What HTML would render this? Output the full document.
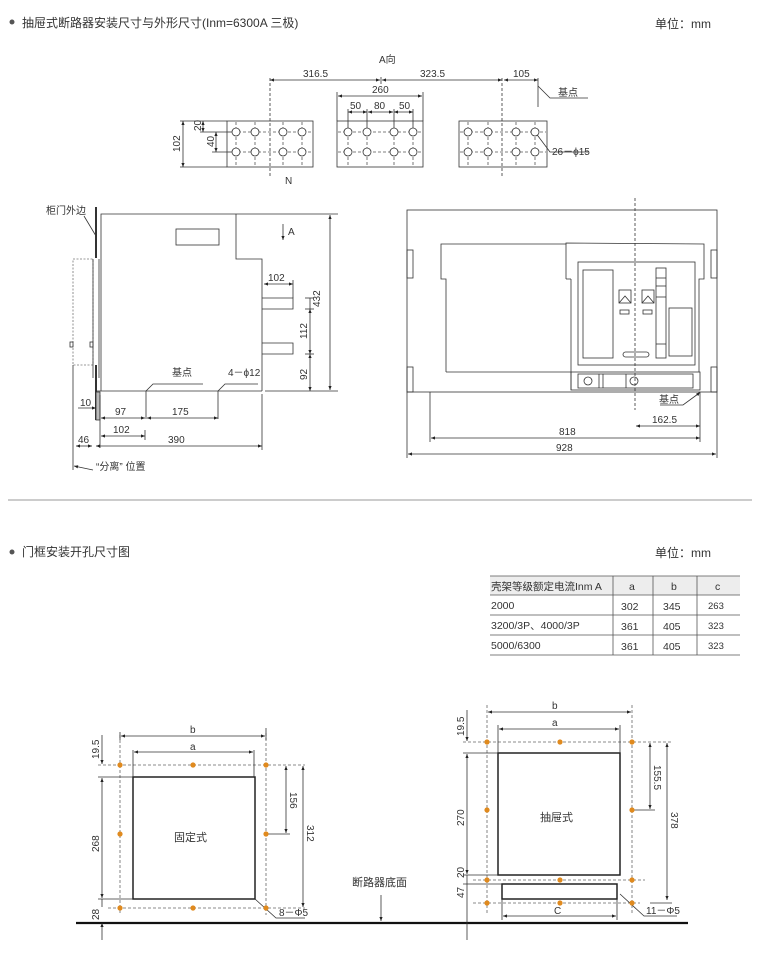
<!DOCTYPE html>
<html><head><meta charset="utf-8"><style>
html,body{margin:0;padding:0;background:#fff}
svg{display:block;font-family:"Liberation Sans","Noto Sans CJK SC",sans-serif}
text{fill:#333}
</style></head><body>
<svg width="760" height="958" viewBox="0 0 760 958" xmlns="http://www.w3.org/2000/svg">
<defs>
<marker id="a" viewBox="0 0 10 10" refX="10" refY="5" markerWidth="6" markerHeight="5" orient="auto-start-reverse"><path d="M0,1 L10,5 L0,9z" fill="#222"/></marker>
</defs>
<g font-size="11">
<circle cx="12" cy="22" r="2.5" fill="#555"/>
<text x="22" y="27" font-size="12">抽屉式断路器安装尺寸与外形尺寸(Inm=6300A 三极)</text>
<text x="655" y="28" font-size="12">单位：mm</text>
</g>

<g stroke="#333" stroke-width="0.8" fill="none">
<line x1="270" y1="80" x2="380" y2="80" marker-start="url(#a)" marker-end="url(#a)"/>
<line x1="382" y1="80" x2="502" y2="80" marker-start="url(#a)" marker-end="url(#a)"/>
<line x1="504" y1="80" x2="538" y2="80" marker-start="url(#a)" marker-end="url(#a)"/>
<line x1="381" y1="77" x2="381" y2="84"/>
<line x1="270" y1="78" x2="270" y2="178" stroke-dasharray="3,2"/>
<line x1="502" y1="78" x2="502" y2="178" stroke-dasharray="3,2"/>
<polyline points="538,78 538,107"/>
<polyline points="538,86 550,98 588,98"/>
<rect x="227" y="121" width="86" height="46"/>
<line x1="180" y1="121" x2="227" y2="121"/><line x1="180" y1="167" x2="227" y2="167"/>
<line x1="183" y1="121" x2="183" y2="167" marker-start="url(#a)" marker-end="url(#a)"/>
<line x1="200" y1="132" x2="236" y2="132"/><line x1="212" y1="152" x2="236" y2="152"/>
<line x1="203" y1="121" x2="203" y2="132" marker-start="url(#a)" marker-end="url(#a)"/>
<line x1="216" y1="132" x2="216" y2="152" marker-start="url(#a)" marker-end="url(#a)"/>
<rect x="337" y="121" width="86" height="46"/>
<line x1="337" y1="92" x2="337" y2="121"/><line x1="423" y1="92" x2="423" y2="121"/>
<line x1="338" y1="96" x2="422" y2="96" marker-start="url(#a)" marker-end="url(#a)"/>
<line x1="348" y1="109" x2="348" y2="132"/><line x1="367" y1="109" x2="367" y2="132"/>
<line x1="394" y1="109" x2="394" y2="132"/><line x1="413" y1="109" x2="413" y2="132"/>
<line x1="348" y1="112" x2="367" y2="112" marker-start="url(#a)" marker-end="url(#a)"/>
<line x1="368" y1="112" x2="393" y2="112" marker-start="url(#a)" marker-end="url(#a)"/>
<line x1="394" y1="112" x2="413" y2="112" marker-start="url(#a)" marker-end="url(#a)"/>
<rect x="459" y="121" width="88" height="46"/>
<polyline points="535,132 550,152 588,152"/>
<g stroke-dasharray="3,2" stroke="#555">
<line x1="228" y1="132" x2="312" y2="132"/><line x1="228" y1="152" x2="312" y2="152"/>
<line x1="338" y1="132" x2="422" y2="132"/><line x1="338" y1="152" x2="422" y2="152"/>
<line x1="460" y1="132" x2="546" y2="132"/><line x1="460" y1="152" x2="546" y2="152"/>
<path d="M236 122V166M255 122V166M283 122V166M302 122V166M348 122V166M367 122V166M394 122V166M413 122V166M468 122V166M488 122V166M516 122V166M535 122V166"/>
</g>
<g fill="#fff">
<circle cx="236" cy="132" r="4"/><circle cx="255" cy="132" r="4"/><circle cx="283" cy="132" r="4"/><circle cx="302" cy="132" r="4"/>
<circle cx="236" cy="152" r="4"/><circle cx="255" cy="152" r="4"/><circle cx="283" cy="152" r="4"/><circle cx="302" cy="152" r="4"/>
<circle cx="348" cy="132" r="4"/><circle cx="367" cy="132" r="4"/><circle cx="394" cy="132" r="4"/><circle cx="413" cy="132" r="4"/>
<circle cx="348" cy="152" r="4"/><circle cx="367" cy="152" r="4"/><circle cx="394" cy="152" r="4"/><circle cx="413" cy="152" r="4"/>
<circle cx="468" cy="132" r="4"/><circle cx="488" cy="132" r="4"/><circle cx="516" cy="132" r="4"/><circle cx="535" cy="132" r="4"/>
<circle cx="468" cy="152" r="4"/><circle cx="488" cy="152" r="4"/><circle cx="516" cy="152" r="4"/><circle cx="535" cy="152" r="4"/>
</g>

<line x1="96" y1="207" x2="96" y2="258" stroke-width="2"/>
<line x1="84" y1="216" x2="96" y2="236"/>
<line x1="96" y1="365" x2="96" y2="420" stroke-width="2"/>
<polyline points="101,391 101,214 338,214"/>
<polyline points="236,214 236,259 262,259 262,391"/>
<line x1="97" y1="391" x2="262" y2="391"/><line x1="265" y1="391" x2="338" y2="391"/>
<rect x="176" y="229" width="43" height="16"/>
<line x1="283" y1="224" x2="283" y2="240" marker-end="url(#a)"/>
<rect x="73" y="259" width="20" height="106" stroke-dasharray="2,1.5" stroke="#777"/>
<line x1="93" y1="259" x2="93" y2="378"/><line x1="99" y1="259" x2="99" y2="378"/>
<rect x="70" y="342" width="3" height="5"/><rect x="90" y="342" width="3" height="5"/>
<line x1="73" y1="365" x2="73" y2="470"/>
<rect x="96" y="392" width="4" height="28" fill="#bbb"/>
<polyline points="262,298 293,298 293,309 262,309"/>
<polyline points="262,343 293,343 293,354 262,354"/>
<line x1="264" y1="284" x2="293" y2="284" marker-start="url(#a)" marker-end="url(#a)"/>
<line x1="293" y1="280" x2="293" y2="298"/>
<line x1="305" y1="298" x2="314" y2="298"/><line x1="305" y1="309" x2="314" y2="309"/><line x1="305" y1="354" x2="314" y2="354"/>
<line x1="310" y1="298" x2="310" y2="309"/>
<line x1="310" y1="309" x2="310" y2="354" marker-start="url(#a)" marker-end="url(#a)"/>
<line x1="310" y1="354" x2="310" y2="391" marker-start="url(#a)" marker-end="url(#a)"/>
<line x1="330" y1="215" x2="330" y2="390" marker-start="url(#a)" marker-end="url(#a)"/>
<polyline points="146,419 146,391 153,384 203,384"/>
<polyline points="218,419 218,391 225,384 258,384"/>
<line x1="100" y1="395" x2="100" y2="448"/>
<line x1="78" y1="408" x2="96" y2="408" marker-end="url(#a)"/>
<line x1="101" y1="418" x2="145" y2="418" marker-start="url(#a)" marker-end="url(#a)"/>
<line x1="147" y1="418" x2="218" y2="418" marker-start="url(#a)" marker-end="url(#a)"/>
<line x1="101" y1="436" x2="145" y2="436" marker-start="url(#a)" marker-end="url(#a)"/>
<line x1="145" y1="430" x2="145" y2="440"/>
<line x1="262" y1="394" x2="262" y2="450"/>
<line x1="96" y1="446" x2="262" y2="446" marker-start="url(#a)" marker-end="url(#a)"/>
<line x1="76" y1="446" x2="92" y2="446" marker-start="url(#a)" marker-end="url(#a)"/>
<line x1="93" y1="470" x2="74" y2="466" marker-end="url(#a)"/>

<rect x="407" y="210" width="310" height="182"/>
<rect x="407" y="250" width="6" height="28"/><rect x="407" y="367" width="6" height="25"/>
<rect x="711" y="250" width="6" height="28"/><rect x="711" y="367" width="6" height="25"/>
<polyline points="446,372 446,279 441,279 441,244 566,244 566,243 704,244 704,279 699,279 699,372"/>
<line x1="566" y1="244" x2="566" y2="279"/><line x1="566" y1="279" x2="571" y2="279"/><line x1="571" y1="279" x2="571" y2="390"/>
<line x1="446" y1="372" x2="571" y2="372"/>
<rect x="578" y="262" width="117" height="103"/>
<rect x="583" y="270" width="30" height="88"/>
<rect x="656" y="268" width="10" height="90"/>
<line x1="656" y1="278" x2="666" y2="278"/><line x1="656" y1="286" x2="666" y2="286"/><line x1="656" y1="297" x2="666" y2="297"/><line x1="656" y1="344" x2="666" y2="344"/>
<rect x="669" y="308" width="23" height="48"/>
<rect x="623" y="352" width="26" height="5" rx="2.5"/>
<rect x="619" y="290" width="12" height="13"/><rect x="642" y="290" width="12" height="13"/>
<path d="M619 303L625 296L631 303M642 303L648 296L654 303"/>
<rect x="620" y="310" width="9" height="4"/><rect x="643" y="310" width="9" height="4"/>
<rect x="571" y="372" width="129" height="18"/>
<rect x="578" y="374" width="115" height="14"/>
<line x1="599" y1="374" x2="599" y2="388"/><line x1="603" y1="374" x2="603" y2="388"/><line x1="626" y1="374" x2="626" y2="388"/>
<circle cx="588" cy="381" r="4"/><circle cx="634" cy="381" r="4"/>
<line x1="635" y1="198" x2="635" y2="410" stroke-dasharray="3,2"/>
<polyline points="660,405 683,405 698,394" />
<line x1="698" y1="394" x2="700" y2="392" marker-end="url(#a)"/>
<line x1="430" y1="392" x2="430" y2="442"/><line x1="700" y1="392" x2="700" y2="442"/>
<line x1="636" y1="426" x2="700" y2="426" marker-start="url(#a)" marker-end="url(#a)"/>
<line x1="431" y1="438" x2="700" y2="438" marker-start="url(#a)" marker-end="url(#a)"/>
<line x1="407" y1="392" x2="407" y2="458"/><line x1="717" y1="392" x2="717" y2="458"/>
<line x1="408" y1="454" x2="716" y2="454" marker-start="url(#a)" marker-end="url(#a)"/>
</g>

<g font-size="10">
<text x="379" y="63">A向</text>
<text x="303" y="77">316.5</text><text x="420" y="77">323.5</text><text x="513" y="77">105</text>
<text x="558" y="96">基点</text>
<text x="372" y="93">260</text>
<text x="350" y="109">50</text><text x="374" y="109">80</text><text x="399" y="109">50</text>
<text x="285" y="184">N</text>
<text x="552" y="155">26－ϕ15</text>
<text transform="translate(180,152) rotate(-90)">102</text>
<text transform="translate(201,131) rotate(-90)">20</text>
<text transform="translate(214,147) rotate(-90)">40</text>
<text x="46" y="214">柜门外边</text>
<text x="288" y="235">A</text>
<text x="268" y="281">102</text>
<text transform="translate(320,307) rotate(-90)">432</text>
<text transform="translate(307,339) rotate(-90)">112</text>
<text transform="translate(307,380) rotate(-90)">92</text>
<text x="172" y="376">基点</text><text x="228" y="376">4－ϕ12</text>
<text x="80" y="406">10</text>
<text x="115" y="415">97</text><text x="172" y="415">175</text>
<text x="113" y="433">102</text><text x="168" y="443">390</text>
<text x="78" y="443">46</text>
<text x="96" y="470">“分离” 位置</text>
<text x="659" y="403">基点</text>
<text x="652" y="423">162.5</text><text x="559" y="435">818</text><text x="556" y="451">928</text>
</g>

<line x1="8" y1="500" x2="752" y2="500" stroke="#999" stroke-width="1"/>
<circle cx="12" cy="552" r="2.5" fill="#555"/>
<text x="22" y="556" font-size="12">门框安装开孔尺寸图</text>
<text x="655" y="557" font-size="12">单位：mm</text>

<g font-size="10.5">
<rect x="490" y="576" width="250" height="19" fill="#ededed"/>
<g stroke="#555" stroke-width="0.8" fill="none">
<line x1="490" y1="576" x2="740" y2="576"/><line x1="490" y1="595" x2="740" y2="595"/>
<line x1="490" y1="615" x2="740" y2="615"/><line x1="490" y1="635" x2="740" y2="635"/>
<line x1="490" y1="655" x2="740" y2="655"/>
<line x1="613" y1="576" x2="613" y2="655"/><line x1="653" y1="576" x2="653" y2="655"/><line x1="697" y1="576" x2="697" y2="655"/>
</g>
<text x="491" y="590">壳架等级额定电流Inm A</text>
<text x="629" y="590">a</text><text x="671" y="590">b</text><text x="715" y="590">c</text>
<text x="491" y="609">2000</text><text x="621" y="610">302</text><text x="663" y="610">345</text><text x="708" y="609" font-size="9.5">263</text>
<text x="491" y="629">3200/3P、4000/3P</text><text x="621" y="630">361</text><text x="663" y="630">405</text><text x="708" y="629" font-size="9.5">323</text>
<text x="491" y="649">5000/6300</text><text x="621" y="650">361</text><text x="663" y="650">405</text><text x="708" y="649" font-size="9.5">323</text>
</g>

<g stroke="#333" stroke-width="0.8" fill="none">
<line x1="76" y1="923" x2="688" y2="923" stroke-width="2.2" stroke="#111"/>
<g stroke-dasharray="3,2" stroke="#666">
<line x1="120" y1="735" x2="120" y2="915"/><line x1="266" y1="733" x2="266" y2="915"/>
<line x1="98" y1="765" x2="305" y2="765"/><line x1="108" y1="908" x2="305" y2="908"/>
<line x1="487" y1="705" x2="487" y2="915"/><line x1="632" y1="705" x2="632" y2="915"/>
<line x1="463" y1="742" x2="672" y2="742"/><line x1="473" y1="880" x2="645" y2="880"/><line x1="473" y1="903" x2="640" y2="903"/>
</g>
<rect x="133" y="777" width="122" height="122" stroke-width="1.5" stroke="#222"/>
<line x1="120" y1="732" x2="120" y2="740"/><line x1="133" y1="750" x2="133" y2="777"/><line x1="254" y1="750" x2="254" y2="777"/><line x1="266" y1="728" x2="266" y2="740"/>
<line x1="121" y1="736" x2="265" y2="736" marker-start="url(#a)" marker-end="url(#a)"/>
<line x1="134" y1="752" x2="253" y2="752" marker-start="url(#a)" marker-end="url(#a)"/>
<line x1="98" y1="777" x2="133" y2="777"/><line x1="98" y1="899" x2="133" y2="899"/>
<line x1="102" y1="735" x2="102" y2="764" marker-end="url(#a)"/>
<line x1="102" y1="778" x2="102" y2="898" marker-start="url(#a)" marker-end="url(#a)"/>
<line x1="102" y1="923" x2="102" y2="940" marker-start="url(#a)"/>
<line x1="102" y1="899" x2="102" y2="907"/>
<line x1="266" y1="834" x2="290" y2="834"/>
<line x1="286" y1="766" x2="286" y2="833" marker-start="url(#a)" marker-end="url(#a)"/>
<line x1="303" y1="766" x2="303" y2="907" marker-start="url(#a)" marker-end="url(#a)"/>
<polyline points="255,899 276,918 305,918"/>
<line x1="381" y1="895" x2="381" y2="921" marker-end="url(#a)"/>

<rect x="498" y="753" width="122" height="122" stroke-width="1.5" stroke="#222"/>
<rect x="502" y="884" width="115" height="15" stroke-width="1.5" stroke="#222"/>
<line x1="498" y1="725" x2="498" y2="753"/><line x1="620" y1="725" x2="620" y2="753"/>
<line x1="488" y1="712" x2="631" y2="712" marker-start="url(#a)" marker-end="url(#a)"/>
<line x1="499" y1="729" x2="619" y2="729" marker-start="url(#a)" marker-end="url(#a)"/>
<line x1="463" y1="753" x2="498" y2="753"/><line x1="463" y1="875" x2="498" y2="875"/><line x1="463" y1="884" x2="502" y2="884"/>
<line x1="467" y1="710" x2="467" y2="741" marker-end="url(#a)"/>
<line x1="467" y1="754" x2="467" y2="874" marker-start="url(#a)" marker-end="url(#a)"/>
<line x1="467" y1="875" x2="467" y2="940"/>
<line x1="632" y1="810" x2="655" y2="810"/>
<line x1="650" y1="743" x2="650" y2="809" marker-start="url(#a)" marker-end="url(#a)"/>
<line x1="667" y1="743" x2="667" y2="900" marker-start="url(#a)" marker-end="url(#a)"/>
<line x1="650" y1="903" x2="672" y2="903"/>
<line x1="502" y1="899" x2="502" y2="920"/><line x1="617" y1="899" x2="617" y2="920"/>
<line x1="503" y1="916" x2="616" y2="916" marker-start="url(#a)" marker-end="url(#a)"/>
<polyline points="620,894 644,916 677,916"/>
</g>
<g fill="#e08a1e">
<circle cx="120" cy="765" r="2.6"/><circle cx="193" cy="765" r="2.6"/><circle cx="266" cy="765" r="2.6"/>
<circle cx="120" cy="834" r="2.6"/><circle cx="266" cy="834" r="2.6"/>
<circle cx="120" cy="908" r="2.6"/><circle cx="193" cy="908" r="2.6"/><circle cx="266" cy="908" r="2.6"/>
<circle cx="487" cy="742" r="2.6"/><circle cx="560" cy="742" r="2.6"/><circle cx="632" cy="742" r="2.6"/>
<circle cx="487" cy="810" r="2.6"/><circle cx="632" cy="810" r="2.6"/>
<circle cx="487" cy="880" r="2.6"/><circle cx="560" cy="880" r="2.6"/><circle cx="632" cy="880" r="2.6"/>
<circle cx="487" cy="903" r="2.6"/><circle cx="560" cy="903" r="2.6"/><circle cx="632" cy="903" r="2.6"/>
</g>
<g font-size="10">
<text x="190" y="733">b</text><text x="190" y="750">a</text>
<text x="174" y="841" font-size="11">固定式</text>
<text transform="translate(99,759) rotate(-90)">19.5</text>
<text transform="translate(99,852) rotate(-90)">268</text>
<text transform="translate(99,920) rotate(-90)">28</text>
<text transform="translate(290,792) rotate(90)">156</text>
<text transform="translate(307,825) rotate(90)">312</text>
<text x="279" y="916">8－Φ5</text>
<text x="352" y="886" font-size="11">断路器底面</text>
<text x="552" y="709">b</text><text x="552" y="726">a</text>
<text x="540" y="821" font-size="11">抽屉式</text>
<text transform="translate(464,736) rotate(-90)">19.5</text>
<text transform="translate(464,826) rotate(-90)">270</text>
<text transform="translate(464,878) rotate(-90)">20</text>
<text transform="translate(464,898) rotate(-90)">47</text>
<text transform="translate(654,765) rotate(90)">155.5</text>
<text transform="translate(671,812) rotate(90)">378</text>
<text x="554" y="914">C</text>
<text x="646" y="914">11－Φ5</text>
</g>
</svg>
</body></html>
